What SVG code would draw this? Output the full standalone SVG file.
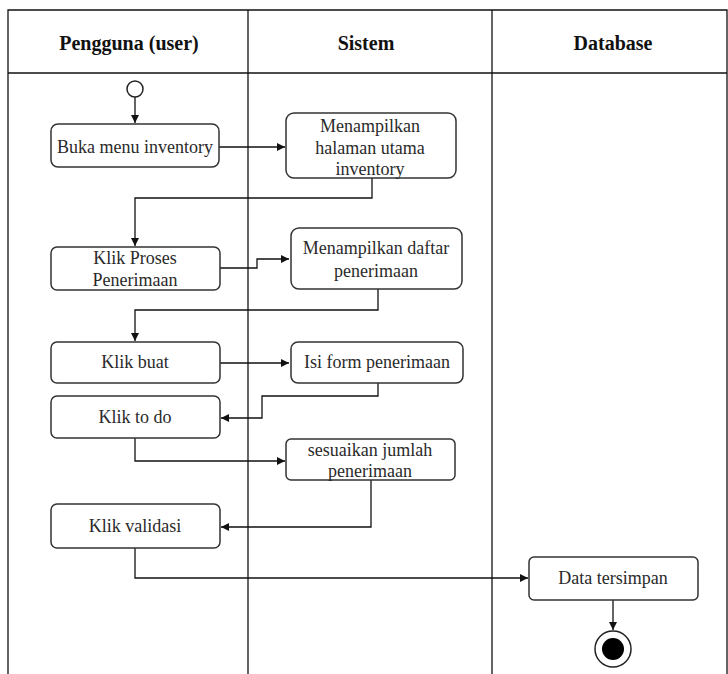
<svg xmlns="http://www.w3.org/2000/svg" width="728" height="674" viewBox="0 0 728 674">
  <style>
    .lane { fill: none; stroke: #111; stroke-width: 1.3; }
    .head { font-family: 'Liberation Serif', 'Times New Roman', serif; font-size: 20px; font-weight: bold; fill: #111; text-anchor: middle; }
    .box { fill: #fff; stroke: #333; stroke-width: 1.5; }
    .lbl { font-family: 'Liberation Serif', 'Times New Roman', serif; font-size: 18px; fill: #2a2a2a; text-anchor: middle; }
    .edge { fill: none; stroke: #111; stroke-width: 1.3; marker-end: url(#arrow); }
  </style>
  <defs>
    <marker id="arrow" markerWidth="10" markerHeight="10" refX="9" refY="5" orient="auto" markerUnits="userSpaceOnUse">
      <path d="M1,1 L9,5 L1,9 Z" fill="#111"/>
    </marker>
  </defs>
  <rect width="728" height="674" fill="#fff"/>

  <!-- swimlanes -->
  <g id="swimlanes">
    <path class="lane" d="M8,674 V10 H727 V674"/>
    <line class="lane" x1="8" y1="73" x2="727" y2="73"/>
    <line class="lane" x1="248" y1="10" x2="248" y2="674"/>
    <line class="lane" x1="492" y1="10" x2="492" y2="674"/>
    <text class="head" x="129" y="50">Pengguna (user)</text>
    <text class="head" x="366" y="50">Sistem</text>
    <text class="head" x="613" y="50">Database</text>
  </g>

  <!-- connectors -->
  <g id="connectors">
    <line class="edge" x1="135" y1="97" x2="135" y2="123"/>
    <line class="edge" x1="219" y1="147" x2="285" y2="147"/>
    <path class="edge" d="M372,178 V198 H135 V246"/>
    <path class="edge" d="M220,268 H257 V259 H289"/>
    <path class="edge" d="M378,289 V310 H135 V341"/>
    <line class="edge" x1="220" y1="363" x2="289" y2="363"/>
    <path class="edge" d="M378,383 V396 H262 V418 H221"/>
    <path class="edge" d="M135,438 V461 H285"/>
    <path class="edge" d="M371,480 V527 H221"/>
    <path class="edge" d="M135,548 V578 H528"/>
    <line class="edge" x1="613" y1="600" x2="613" y2="630"/>
  </g>

  <!-- nodes -->
  <g id="start">
    <circle cx="135" cy="89" r="8" fill="#fff" stroke="#222" stroke-width="1.5"/>
  </g>
  <g id="buka-menu">
    <rect class="box" x="51" y="124" width="168" height="43" rx="7"/>
    <text class="lbl" x="135" y="153">Buka menu inventory</text>
  </g>
  <g id="halaman-utama">
    <rect class="box" x="286" y="113" width="170" height="65" rx="8"/>
    <text class="lbl" x="370" y="132">Menampilkan</text>
    <text class="lbl" x="370" y="154">halaman utama</text>
    <text class="lbl" x="370" y="175">inventory</text>
  </g>
  <g id="klik-proses">
    <rect class="box" x="51" y="247" width="169" height="43" rx="6"/>
    <text class="lbl" x="135" y="264">Klik Proses</text>
    <text class="lbl" x="135" y="286">Penerimaan</text>
  </g>
  <g id="daftar-penerimaan">
    <rect class="box" x="291" y="228" width="171" height="61" rx="8"/>
    <text class="lbl" x="376" y="254">Menampilkan daftar</text>
    <text class="lbl" x="376" y="277">penerimaan</text>
  </g>
  <g id="klik-buat">
    <rect class="box" x="51" y="342" width="169" height="41" rx="6"/>
    <text class="lbl" x="135" y="368">Klik buat</text>
  </g>
  <g id="isi-form">
    <rect class="box" x="291" y="342" width="172" height="41" rx="7"/>
    <text class="lbl" x="377" y="368">Isi form penerimaan</text>
  </g>
  <g id="klik-todo">
    <rect class="box" x="51" y="396" width="169" height="42" rx="6"/>
    <text class="lbl" x="135" y="423">Klik to do</text>
  </g>
  <g id="sesuaikan">
    <rect class="box" x="286" y="439" width="169" height="41" rx="5"/>
    <text class="lbl" x="370" y="456">sesuaikan jumlah</text>
    <text class="lbl" x="370" y="477">penerimaan</text>
  </g>
  <g id="klik-validasi">
    <rect class="box" x="51" y="504" width="169" height="44" rx="6"/>
    <text class="lbl" x="135" y="532">Klik validasi</text>
  </g>
  <g id="data-tersimpan">
    <rect class="box" x="529" y="557" width="169" height="43" rx="5"/>
    <text class="lbl" x="613" y="584">Data tersimpan</text>
  </g>
  <g id="end">
    <circle cx="613" cy="649" r="18" fill="#fff" stroke="#222" stroke-width="1.5"/>
    <circle cx="613" cy="649" r="11" fill="#000"/>
  </g>
</svg>
